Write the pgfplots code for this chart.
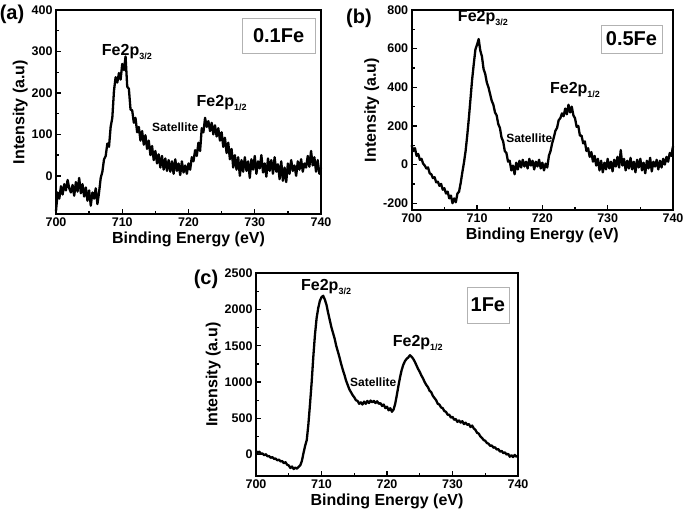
\documentclass[border=0pt]{standalone}
\usepackage{pgfplots}
\pgfplotsset{compat=1.18}
\usepackage{fontspec}
\setmainfont{Liberation Sans}
\newcommand{\sub}[1]{\raisebox{-0.45ex}{\fontsize{9}{9}\selectfont #1}}
\pgfplotsset{
  xpsaxis/.style={
    scale only axis, anchor=south west,
    xmin=700, xmax=740, xtick={700,710,...,740}, minor x tick num=1,
    minor y tick num=1, tick pos=left, tick align=inside,
    major tick length=5pt, minor tick length=3pt,
    axis line style={line width=1.8pt}, every tick/.style={line width=1.3pt, black},
    /pgf/number format/assume math mode=true,
    /pgf/number format/set thousands separator={},
    tick label style={font=\fontsize{12.5}{14}\selectfont\bfseries},
    label style={font=\fontsize{16}{18}\selectfont\bfseries},
    xlabel={Binding Energy (eV)}, ylabel={Intensity (a.u)},
    xlabel style={yshift=1pt}, ylabel style={yshift=-3pt},
    clip=false,
  },
  spec/.style={black, line width=2.3pt, line join=round, no marks},
}
\begin{document}
\begin{tikzpicture}
\path[use as bounding box] (0,0) rectangle (685pt,-516pt);
% (a)
\begin{axis}[xpsaxis, at={(56pt,-214pt)}, width=265pt, height=204pt,
  ymin=-92, ymax=400, ytick={0,100,...,400}]
\addplot[spec] table {
700.00 -85
700.25 -40
700.50 -55
700.75 -25
701.00 -45
701.25 -20
701.50 -35
701.75 -10
702.00 -30
702.25 -40
702.50 -22
702.75 -48
703.00 -15
703.25 -38
703.50 -5
703.75 -42
704.00 -20
704.25 -50
704.50 -28
704.75 -60
705.00 -35
705.25 -72
705.50 -40
705.75 -55
706.00 -30
706.25 -68
706.50 -40
706.75 -5
707.00 10
707.25 40
707.50 48
707.75 78
708.00 70
708.25 118
708.50 140
708.75 205
709.00 238
709.25 225
709.50 248
709.75 232
710.00 270
710.25 255
710.50 288
710.75 215
711.00 210
711.25 160
711.50 158
711.75 128
712.00 140
712.25 105
712.50 118
712.75 85
713.00 108
713.25 75
713.50 98
713.75 65
714.00 85
714.25 50
714.50 72
714.75 38
715.00 60
715.25 30
715.50 52
715.75 20
716.00 48
716.25 15
716.50 42
716.75 12
717.00 38
717.25 10
717.50 35
717.75 5
718.00 40
718.25 12
718.50 30
718.75 2
719.00 35
719.25 8
719.50 25
719.75 5
720.00 30
720.25 15
720.50 45
720.75 35
721.00 62
721.25 48
721.50 80
721.75 60
722.00 115
722.25 105
722.50 140
722.75 118
723.00 132
723.25 108
723.50 128
723.75 100
724.00 122
724.25 95
724.50 115
724.75 85
725.00 105
725.25 70
725.50 92
725.75 55
726.00 80
726.25 40
726.50 65
726.75 20
727.00 50
727.25 15
727.50 45
727.75 0
728.00 38
728.25 10
728.50 45
728.75 12
729.00 35
729.25 -5
729.50 40
729.75 15
730.00 48
730.25 5
730.50 35
730.75 18
731.00 50
731.25 8
731.50 30
731.75 -2
732.00 42
732.25 12
732.50 38
732.75 5
733.00 45
733.25 10
733.50 28
733.75 -8
734.00 35
734.25 -12
734.50 20
734.75 -15
735.00 30
735.25 5
735.50 38
735.75 12
736.00 25
736.25 0
736.50 35
736.75 15
737.00 40
737.25 10
737.50 30
737.75 20
738.00 48
738.25 22
738.50 60
738.75 25
739.00 45
739.25 10
739.50 38
739.75 5
740.00 20
};
\node[font=\fontsize{16}{18}\selectfont\bfseries] at (axis cs:710.7,299) {Fe2p\sub{3/2}};
\node[font=\fontsize{16}{18}\selectfont\bfseries] at (axis cs:725,176) {Fe2p\sub{1/2}};
\node[font=\fontsize{12}{14}\selectfont\bfseries] at (axis cs:718,118) {Satellite};
\node[draw=gray!60, line width=0.7pt, minimum width=73pt, minimum height=35pt, inner sep=0pt,
  font=\fontsize{20}{22}\selectfont\bfseries] at (rel axis cs:0.84,0.875) {0.1Fe};
\end{axis}
% (b)
\begin{axis}[xpsaxis, at={(411.7pt,-210pt)}, width=261.3pt, height=200pt,
  ymin=-235, ymax=800, ytick={-200,0,...,800}]
\addplot[spec] table {
700.00 100
700.25 70
700.50 85
700.75 45
701.00 55
701.25 25
701.50 30
701.75 5
702.00 -5
702.25 -20
702.50 -15
702.75 -45
703.00 -50
703.25 -70
703.50 -65
703.75 -92
704.00 -88
704.25 -110
704.50 -100
704.75 -130
705.00 -122
705.25 -150
705.50 -140
705.75 -175
706.00 -160
706.25 -200
706.50 -175
706.75 -195
707.00 -150
707.25 -140
707.50 -95
707.75 -40
708.00 10
708.25 70
708.50 150
708.75 240
709.00 340
709.25 440
709.50 520
709.75 595
710.00 620
710.25 650
710.50 590
710.75 560
711.00 495
711.25 470
711.50 425
711.75 400
712.00 365
712.25 330
712.50 310
712.75 270
713.00 255
713.25 210
713.50 190
713.75 140
714.00 120
714.25 70
714.50 60
714.75 15
715.00 20
715.25 -30
715.50 -5
715.75 -50
716.00 10
716.25 -25
716.50 20
716.75 -15
717.00 25
717.25 -10
717.50 15
717.75 -20
718.00 30
718.25 -5
718.50 20
718.75 -25
719.00 15
719.25 -10
719.50 25
719.75 -20
720.00 10
720.25 -30
720.50 5
720.75 -15
721.00 45
721.25 70
721.50 110
721.75 140
722.00 175
722.25 190
722.50 230
722.75 240
723.00 265
723.25 250
723.50 290
723.75 260
724.00 310
724.25 270
724.50 300
724.75 255
725.00 240
725.25 195
725.50 200
725.75 150
726.00 150
726.25 110
726.50 120
726.75 70
727.00 85
727.25 40
727.50 65
727.75 15
728.00 45
728.25 -5
728.50 30
728.75 -30
729.00 20
729.25 -40
729.50 10
729.75 -25
730.00 30
730.25 -20
730.50 15
730.75 -35
731.00 25
731.25 -10
731.50 40
731.75 -15
732.00 75
732.25 -5
732.50 30
732.75 -30
733.00 20
733.25 -20
733.50 35
733.75 -25
734.00 15
734.25 -40
734.50 25
734.75 -15
735.00 30
735.25 -30
735.50 10
735.75 -45
736.00 20
736.25 -20
736.50 35
736.75 -35
737.00 15
737.25 -10
737.50 25
737.75 -25
738.00 20
738.25 -15
738.50 30
738.75 0
739.00 40
739.25 15
739.50 60
739.75 45
740.00 95
};
\node[font=\fontsize{16}{18}\selectfont\bfseries] at (axis cs:710.9,758) {Fe2p\sub{3/2}};
\node[font=\fontsize{16}{18}\selectfont\bfseries] at (axis cs:725,386) {Fe2p\sub{1/2}};
\node[font=\fontsize{12}{14}\selectfont\bfseries] at (axis cs:718,137) {Satellite};
\node[draw=gray!60, line width=0.7pt, minimum width=61pt, minimum height=28pt, inner sep=0pt,
  font=\fontsize{20}{22}\selectfont\bfseries] at (rel axis cs:0.841,0.855) {0.5Fe};
\end{axis}
% (c)
\begin{axis}[xpsaxis, at={(256pt,-476pt)}, width=262pt, height=202.7pt,
  ymin=-296, ymax=2500, ytick={0,500,...,2500}]
\addplot[spec] table {
700.00 50
700.25 20
700.50 40
700.75 10
701.00 15
701.25 -10
701.50 5
701.75 -25
702.00 -20
702.25 -45
702.50 -35
702.75 -60
703.00 -55
703.25 -80
703.50 -70
703.75 -95
704.00 -90
704.25 -120
704.50 -105
704.75 -140
705.00 -150
705.25 -185
705.50 -165
705.75 -200
706.00 -180
706.25 -195
706.50 -170
706.75 -150
707.00 -90
707.25 20
707.50 120
707.75 200
708.00 420
708.25 700
708.50 1000
708.75 1350
709.00 1650
709.25 1880
709.50 2020
709.75 2120
710.00 2170
710.25 2190
710.50 2140
710.75 2070
711.00 1960
711.25 1860
711.50 1760
711.75 1680
712.00 1600
712.25 1500
712.50 1420
712.75 1340
713.00 1250
713.25 1170
713.50 1100
713.75 1020
714.00 960
714.25 900
714.50 860
714.75 820
715.00 790
715.25 750
715.50 740
715.75 700
716.00 720
716.25 690
716.50 730
716.75 700
717.00 740
717.25 710
717.50 745
717.75 720
718.00 740
718.25 710
718.50 735
718.75 700
719.00 710
719.25 670
719.50 690
719.75 640
720.00 660
720.25 610
720.50 640
720.75 590
721.00 620
721.25 700
721.50 820
721.75 950
722.00 1070
722.25 1170
722.50 1240
722.75 1290
723.00 1320
723.25 1340
723.50 1370
723.75 1350
724.00 1320
724.25 1280
724.50 1230
724.75 1180
725.00 1140
725.25 1090
725.50 1050
725.75 1000
726.00 960
726.25 930
726.50 880
726.75 860
727.00 810
727.25 780
727.50 750
727.75 700
728.00 690
728.25 650
728.50 640
728.75 600
729.00 590
729.25 550
729.50 550
729.75 510
730.00 520
730.25 480
730.50 490
730.75 450
731.00 470
731.25 440
731.50 460
731.75 420
732.00 440
732.25 410
732.50 420
732.75 380
733.00 400
733.25 360
733.50 340
733.75 300
734.00 290
734.25 250
734.50 230
734.75 200
735.00 190
735.25 160
735.50 150
735.75 120
736.00 125
736.25 95
736.50 100
736.75 70
737.00 75
737.25 40
737.50 50
737.75 20
738.00 30
738.25 0
738.50 10
738.75 -30
739.00 -10
739.25 -35
739.50 -5
739.75 -30
740.00 -15
};
\node[font=\fontsize{16}{18}\selectfont\bfseries] at (axis cs:710.7,2315) {Fe2p\sub{3/2}};
\node[font=\fontsize{16}{18}\selectfont\bfseries] at (axis cs:724.7,1537) {Fe2p\sub{1/2}};
\node[font=\fontsize{12}{14}\selectfont\bfseries] at (axis cs:717.9,995) {Satellite};
\node[draw=gray!60, line width=0.7pt, minimum width=42pt, minimum height=36pt, inner sep=0pt,
  font=\fontsize{20}{22}\selectfont\bfseries] at (rel axis cs:0.885,0.844) {1Fe};
\end{axis}
\node[font=\fontsize{20}{22}\selectfont\bfseries] at (12pt,-14pt) {(a)};
\node[font=\fontsize{20}{22}\selectfont\bfseries] at (359pt,-18pt) {(b)};
\node[font=\fontsize{20}{22}\selectfont\bfseries] at (206pt,-279pt) {(c)};
\end{tikzpicture}
\end{document}
